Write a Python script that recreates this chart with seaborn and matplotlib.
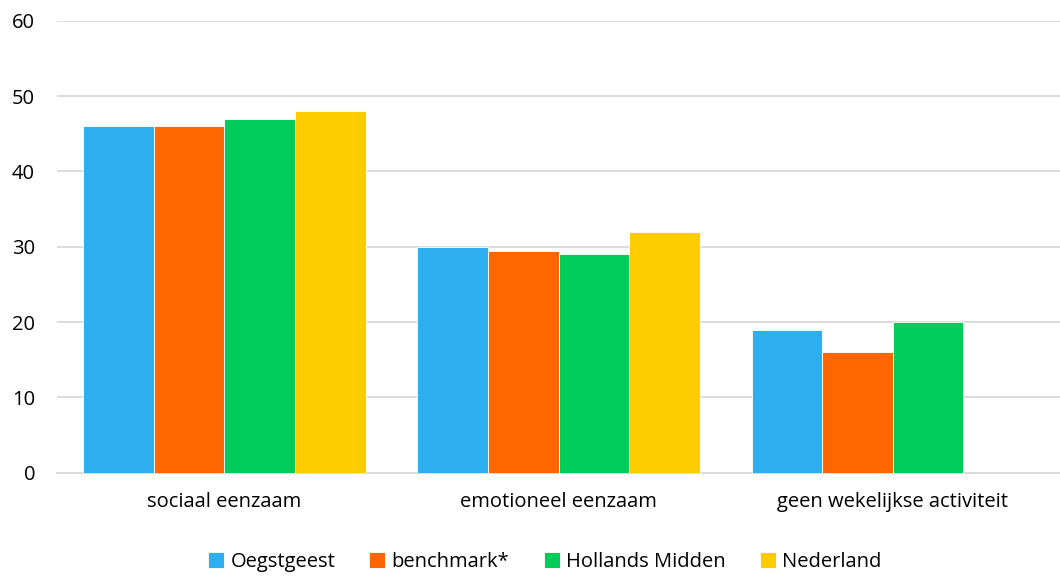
import seaborn as sns
import pandas as pd
import numpy as np
import matplotlib.pyplot as plt

categories = ["sociaal eenzaam", "emotioneel eenzaam", "geen wekelijkse activiteit"]
regions = ["Oegstgeest", "benchmark*", "Hollands Midden", "Nederland"]
oegstgeest = [46, 30, 19]
benchmark = [46, 29.5, 16]
hollands_midden = [47, 29, 20]
nederland = [48, 32, np.nan]
colors = ["#2daeee", "#ff6600", "#00cc5a", "#ffcc00"]

rows = []
for reg, vals in zip(regions, [oegstgeest, benchmark, hollands_midden, nederland]):
    for cat, v in zip(categories, vals):
        rows.append({"cat": cat, "region": reg, "value": v})
df = pd.DataFrame(rows)

sns.set_theme(style="white")
plt.rcParams["font.family"] = ["Open Sans", "DejaVu Sans"]
plt.rcParams["text.color"] = "black"

fig = plt.figure(figsize=(10.6, 5.78), dpi=100)
ax = fig.add_axes([0.054, 0.182, 0.946, 0.782])
sns.barplot(data=df, x="cat", y="value", hue="region", hue_order=regions,
            order=categories, palette=colors, width=0.845, gap=0,
            edgecolor="white", linewidth=0.6, saturation=1, ax=ax, zorder=3)

ax.set_ylim(0, 60)
ax.set_xlim(-0.5, 2.5)
ax.set_yticks(range(0, 61, 10))
ax.yaxis.grid(True, color="#d9d9d9", linewidth=1.3, zorder=0)
ax.set_axisbelow(True)
for s in ["top", "right", "left"]:
    ax.spines[s].set_visible(False)
ax.spines["bottom"].set_color("#d9d9d9")
ax.spines["bottom"].set_linewidth(1.3)
ax.set_xlabel("")
ax.set_ylabel("")
ax.tick_params(axis="both", length=0, labelsize=14.5, colors="#000000")
ax.tick_params(axis="x", pad=14)
ax.tick_params(axis="y", pad=16)

ax.legend(loc="upper center", bbox_to_anchor=(0.486, -0.135), ncol=4, frameon=False,
          fontsize=14.5, handlelength=0.8, handleheight=0.8, handletextpad=0.3,
          columnspacing=1.7, labelcolor="black")

fig.savefig("out.png", dpi=100)
